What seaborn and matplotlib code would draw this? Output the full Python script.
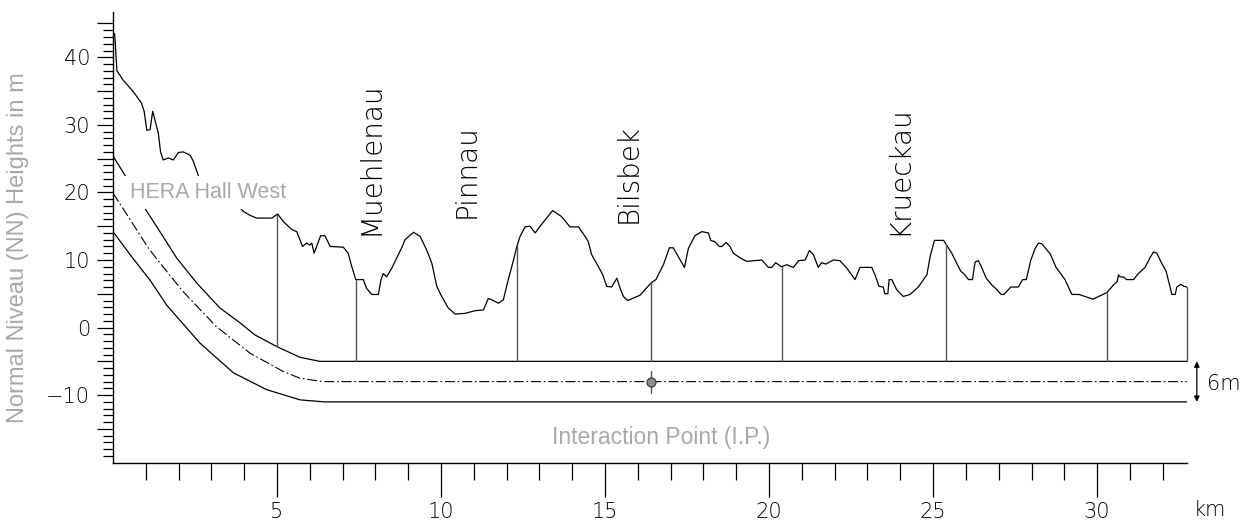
import numpy as np
import pandas as pd
import matplotlib
matplotlib.use("Agg")
import matplotlib.pyplot as plt
import seaborn as sns

# ---------------- data ----------------
terrain_km = [0.05, 0.12, 0.31, 0.62, 0.87, 0.95, 1.03, 1.13, 1.21, 1.28, 1.38, 1.45, 1.53, 1.69, 1.84,
              1.99, 2.14, 2.35, 2.45, 2.63, 3.00, 3.40, 3.75, 3.97, 4.18, 4.38, 4.84, 5.02, 5.19, 5.45,
              5.60, 5.78, 5.90, 6.00, 6.06, 6.13, 6.26, 6.33, 6.46, 6.62, 7.02, 7.17, 7.28, 7.40, 7.63,
              7.73, 7.89, 8.09, 8.17, 8.24, 8.34, 8.50, 8.65, 8.82, 8.90, 9.16, 9.36, 9.56, 9.72, 9.87,
              10.02, 10.22, 10.43, 10.73, 11.04, 11.29, 11.44, 11.55, 11.75, 11.90, 12.05, 12.21, 12.31,
              12.41, 12.56, 12.71, 12.87, 13.02, 13.22, 13.40, 13.53, 13.68, 13.93, 14.19, 14.39, 14.49,
              14.59, 14.80, 14.93, 15.05, 15.20, 15.36, 15.46, 15.56, 15.69, 16.07, 16.40, 16.55, 16.78,
              16.96, 17.08, 17.29, 17.42, 17.54, 17.74, 17.95, 18.15, 18.22, 18.35, 18.48, 18.56, 18.69,
              18.81, 18.91, 19.12, 19.32, 19.57, 19.78, 19.98, 20.08, 20.20, 20.38, 20.54, 20.74, 20.90,
              21.10, 21.23, 21.35, 21.50, 21.60, 21.73, 21.96, 22.16, 22.37, 22.62, 22.77, 23.13, 23.23,
              23.35, 23.48, 23.53, 23.62, 23.66, 23.74, 23.89, 24.09, 24.30, 24.55, 24.81, 24.91, 25.04,
              25.32, 25.57, 25.72, 25.85, 25.95, 26.08, 26.20, 26.28, 26.38, 26.49, 26.62, 26.79, 26.95,
              27.07, 27.16, 27.37, 27.60, 27.73, 27.84, 27.98, 28.11, 28.21, 28.31, 28.57, 28.75, 29.02,
              29.23, 29.45, 29.63, 29.87, 30.09, 30.30, 30.50, 30.61, 30.65, 30.70, 30.80, 30.90, 31.11,
              31.24, 31.46, 31.62, 31.72, 31.82, 31.97, 32.10, 32.21, 32.28, 32.38, 32.43, 32.55, 32.65,
              32.75]
terrain_m = [43.5, 38.0, 36.6, 34.9, 33.2, 32.0, 29.2, 29.3, 32.0, 30.7, 28.8, 26.0, 24.8, 25.1, 24.8,
             25.9, 26.0, 25.5, 24.6, 22.1, 20.6, 19.4, 18.4, 17.2, 16.6, 16.2, 16.2, 16.8, 15.7, 14.5,
             14.2, 12.0, 12.5, 12.2, 12.5, 11.0, 12.7, 13.6, 13.6, 12.0, 11.9, 11.0, 9.0, 7.1, 7.1,
             5.8, 4.9, 4.9, 7.1, 8.0, 7.5, 8.8, 10.3, 12.0, 13.0, 14.1, 13.5, 11.5, 9.5, 6.1,
             4.6, 2.9, 2.0, 2.1, 2.5, 2.6, 4.3, 4.1, 3.6, 4.1, 7.1, 10.0, 12.0,
             13.5, 14.9, 15.0, 14.0, 15.0, 16.2, 17.3, 16.9, 16.4, 14.9, 14.9, 13.5, 12.7,
             10.8, 9.0, 7.8, 6.1, 6.0, 7.3, 5.8, 4.6, 4.0, 4.8, 6.6, 7.1, 9.3,
             11.8, 11.8, 10.0, 8.9, 11.7, 13.6, 14.2, 14.0, 12.9, 12.7, 12.0, 12.0, 12.6,
             12.0, 11.0, 10.3, 9.8, 9.9, 10.0, 8.9, 8.9, 9.6, 9.0, 9.3, 8.9, 9.9,
             10.0, 11.4, 10.8, 8.9, 9.6, 9.4, 10.0, 9.9, 8.8, 7.1, 8.9, 8.9, 7.8,
             6.1, 6.0, 5.0, 5.0, 7.1, 7.1, 5.6, 4.6, 4.9, 6.0, 7.8, 10.5, 12.9,
             12.9, 11.0, 9.5, 8.3, 7.9, 7.1, 7.1, 9.7, 9.9, 8.8, 7.3, 6.3, 5.6,
             4.9, 4.9, 6.0, 6.0, 7.1, 7.1, 10.0, 11.7, 12.5, 12.4, 10.9, 8.9, 7.1,
             4.9, 4.9, 4.6, 4.2, 4.7, 5.2, 6.3, 6.8, 7.8, 7.5, 7.5, 7.1, 7.1,
             7.9, 8.9, 10.4, 11.2, 11.0, 9.5, 8.4, 6.3, 4.9, 4.9, 6.0, 6.4, 6.1,
             6.0]

tunnel_top_km = [0.0, 0.42, 0.87, 1.43, 1.94, 2.55, 3.26, 3.87, 4.33, 4.99, 5.70, 6.30, 32.75]
tunnel_top_m = [25.4, 22.1, 18.4, 14.2, 10.3, 6.6, 2.9, 0.7, -1.1, -2.8, -4.4, -5.0, -5.0]

beam_km = [0.0, 0.52, 1.10, 1.74, 2.14, 3.16, 4.18, 5.19, 5.70, 6.40, 32.75]
beam_m = [19.9, 16.0, 11.6, 7.7, 5.3, 0.1, -3.8, -6.5, -7.5, -8.0, -8.0]

tunnel_bot_km = [0.0, 0.52, 1.13, 1.64, 2.65, 3.67, 4.69, 5.70, 6.45, 32.75]
tunnel_bot_m = [14.2, 10.8, 7.0, 3.3, -2.3, -6.7, -9.2, -10.7, -11.0, -11.0]

shaft_km = [4.99, 7.40, 12.31, 16.40, 20.39, 25.39, 30.30, 32.75]

rivers = ["Muehlenau", "Pinnau", "Bilsbek", "Krueckau"]
river_km = [7.84, 10.78, 15.73, 23.96]
river_m = [13.7, 16.2, 15.5, 13.7]

ip_km = 16.40
ip_m = -8.0

x_major = [5, 10, 15, 20, 25, 30]
y_labels = [-10, 0, 10, 20, 30, 40]

# ---------------- figure ----------------
sns.set_style("white")
plt.rcParams['font.family'] = ['DejaVu Sans']

fig = plt.figure(figsize=(12.47, 5.27), dpi=100)
ax = fig.add_axes([113 / 1247, 64.3 / 527, (1187 - 113) / 1247, (515 - 64.3) / 527])

lw = 0.9
df_t = pd.DataFrame({"km": terrain_km, "m": terrain_m})
sns.lineplot(data=df_t, x="km", y="m", ax=ax, color="black", lw=lw, estimator=None, sort=False)

df_top = pd.DataFrame({"km": tunnel_top_km, "m": tunnel_top_m})
sns.lineplot(data=df_top, x="km", y="m", ax=ax, color="black", lw=lw, estimator=None, sort=False)
df_bot = pd.DataFrame({"km": tunnel_bot_km, "m": tunnel_bot_m})
sns.lineplot(data=df_bot, x="km", y="m", ax=ax, color="black", lw=lw, estimator=None, sort=False)
df_beam = pd.DataFrame({"km": beam_km, "m": beam_m})
sns.lineplot(data=df_beam, x="km", y="m", ax=ax, color="black", lw=0.8, estimator=None, sort=False,
             linestyle=(0, (9, 2.5, 1.5, 2.5)))

# shafts
for xs in shaft_km:
    top = np.interp(xs, terrain_km, terrain_m)
    bot = np.interp(xs, tunnel_top_km, tunnel_top_m)
    ax.plot([xs, xs], [bot, top], color="#555555", lw=1.0, clip_on=False)

# interaction point
ax.plot([ip_km, ip_km], [ip_m + 1.5, ip_m - 1.7], color="#555555", lw=1.0)
ax.plot([ip_km], [ip_m], marker="o", ms=6.5, mfc="#8c8c8c", mec="#333333", mew=0.8, zorder=5)

# river labels
for name, xk, ym in zip(rivers, river_km, river_m):
    ax.text(xk, ym, name, rotation=90, ha="center", va="bottom", fontsize=20, color="black",
            fontweight="ultralight")

# gray labels
ax.text(2.91, 20.0, "HERA Hall West", ha="center", va="center", fontsize=15.5, color="#a8a8a8",
        family="Liberation Sans", zorder=6,
        bbox=dict(facecolor="white", edgecolor="none", pad=4.5))
ax.text(16.72, -16.3, "Interaction Point (I.P.)", ha="center", va="center", fontsize=16.5,
        color="#a8a8a8", family="Liberation Sans")
fig.text(18 / 1247, 0.530, "Normal Niveau (NN) Heights in m", rotation=90, ha="center",
         va="center", fontsize=17, color="#a8a8a8", family="Liberation Sans")

# 6 m arrow
ax.annotate("", xy=(33.04, -11.0), xytext=(33.04, -5.0),
            arrowprops=dict(arrowstyle="<|-|>", color="black", lw=0.9, mutation_scale=8,
                            shrinkA=0, shrinkB=0), annotation_clip=False)
ax.text(33.35, -8.3, "6m", ha="left", va="center", fontsize=15, color="black", clip_on=False,
        fontweight="ultralight")
ax.text(33.45, -27.0, "km", ha="center", va="center", fontsize=15, color="black", clip_on=False,
        fontweight="ultralight")

# axes
ax.set_xlim(0, 32.74)
ax.set_ylim(-20, 46.7)
for s in ["top", "right"]:
    ax.spines[s].set_visible(False)
for s in ["left", "bottom"]:
    ax.spines[s].set_color("black")
    ax.spines[s].set_linewidth(1.0)

ax.set_xticks(x_major)
ax.set_xticklabels([str(v) for v in x_major])
ax.set_xticks([v for v in range(1, 33) if v % 5 != 0], minor=True)
y_major = list(range(-15, 46, 5))
ax.set_yticks(y_major)
ax.set_yticklabels([("\u2212" + str(-v) if v < 0 else str(v)) if v in y_labels else "" for v in y_major])
ax.set_yticks([v for v in range(-19, 45) if v % 5 != 0], minor=True)

ax.tick_params(which="both", bottom=True, left=True, top=False, right=False, color="black")
ax.tick_params(axis="x", which="major", direction="out", length=24.5, width=0.9, pad=4,
               labelsize=15, colors="black")
ax.tick_params(axis="x", which="minor", direction="out", length=12.2, width=0.9)
ax.tick_params(axis="y", which="major", direction="out", length=11.5, width=0.9, pad=5,
               labelsize=15, colors="black")
ax.tick_params(axis="y", which="minor", direction="out", length=7.2, width=0.9)
for lab in ax.get_xticklabels() + ax.get_yticklabels():
    lab.set_fontweight("ultralight")
ax.set_xlabel("")
ax.set_ylabel("")

fig.savefig("out.png", dpi=100)
